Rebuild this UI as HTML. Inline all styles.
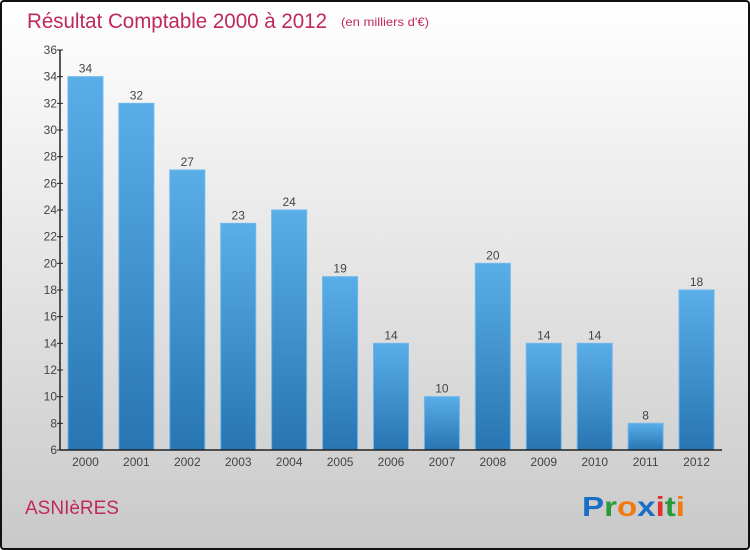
<!DOCTYPE html>
<html><head><meta charset="utf-8"><style>
html,body{margin:0;padding:0;}
body{width:750px;height:550px;overflow:hidden;font-family:"Liberation Sans",sans-serif;}
#frame{position:absolute;left:0;top:0;width:746px;height:546px;border:2px solid #111;border-radius:4px;background:linear-gradient(#ffffff,#c9c9c9);}
</style></head><body>
<div id="frame"></div>
<svg id="chart" width="750" height="550" style="position:absolute;left:0;top:0">
<defs><linearGradient id="bg" x1="0" y1="0" x2="0" y2="1"><stop offset="0" stop-color="#5aaee8"/><stop offset="1" stop-color="#2775b2"/></linearGradient></defs>
<text x="27" y="28" font-size="21" fill="#c0285a" textLength="300" lengthAdjust="spacingAndGlyphs">Résultat Comptable 2000 à 2012</text>
<text x="341" y="26" font-size="12" fill="#c0285a" textLength="88" lengthAdjust="spacingAndGlyphs">(en milliers d'€)</text>
<text x="25" y="514" font-size="19" fill="#c0285a">ASNIèRES</text>
<g font-size="28" font-weight="bold">
<text x="582" y="516" textLength="103" lengthAdjust="spacingAndGlyphs"><tspan fill="#1a6fc4">P</tspan><tspan fill="#2a9a3a">r</tspan><tspan fill="#f07a10">o</tspan><tspan fill="#1a6fc4">x</tspan><tspan fill="#e03030">i</tspan><tspan fill="#2a9a3a">t</tspan><tspan fill="#f07a10">i</tspan></text>
</g>
<g id="plot"></g>
</svg>
<script>
const categories=["2000","2001","2002","2003","2004","2005","2006","2007","2008","2009","2010","2011","2012"];
const values=[34,32,27,23,24,19,14,10,20,14,14,8,18];
const yTicks=[6,8,10,12,14,16,18,20,22,24,26,28,30,32,34,36];
const yMin=6,yMax=36,plotTop=50,plotBottom=450,plotLeft=60,plotRight=722;
const y=v=>plotBottom-(v-yMin)/(yMax-yMin)*(plotBottom-plotTop);
const step=(plotRight-plotLeft)/categories.length;
const x=i=>plotLeft+step*(i+0.5);
const NS="http://www.w3.org/2000/svg";
const g=document.getElementById('plot');
function mk(t,a){const e=document.createElementNS(NS,t);for(const k in a)e.setAttribute(k,a[k]);g.appendChild(e);return e;}
values.forEach((v,i)=>{
 const r=mk('rect',{x:x(i)-17.5,y:y(v),width:35,height:plotBottom-y(v),fill:'url(#bg)',stroke:'#6bb8ee','stroke-width':1});
 
 
 const t=mk('text',{x:x(i),y:y(v)-4,'font-size':12,fill:'#444','text-anchor':'middle'});t.textContent=v;
 
 
 const c=mk('text',{x:x(i),y:plotBottom+16,'font-size':12,fill:'#444','text-anchor':'middle'});c.textContent=categories[i];
 
 
});
yTicks.forEach(v=>{
 const l=mk('line',{x1:plotLeft-3,x2:plotLeft+3,y1:y(v),y2:y(v),stroke:'#222'});
 
 
 const t=mk('text',{x:plotLeft-3,y:y(v)+4,'font-size':12,fill:'#444','text-anchor':'end'});t.textContent=v;
 
 
});
const ya=mk('line',{x1:plotLeft,x2:plotLeft,y1:plotTop,y2:plotBottom,stroke:'#222','stroke-width':1.5});


const xa=mk('line',{x1:plotLeft,x2:plotRight,y1:plotBottom,y2:plotBottom,stroke:'#222','stroke-width':1.5});


</script>
</body></html>
